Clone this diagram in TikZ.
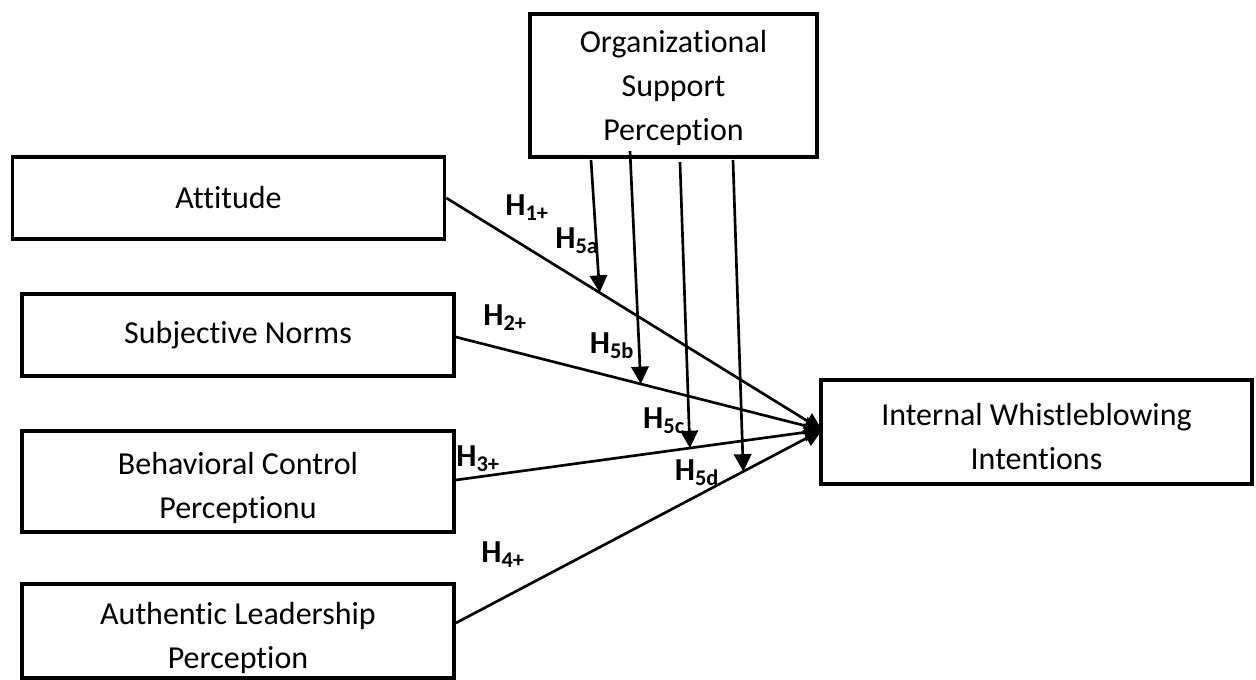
\documentclass[tikz,border=0pt]{standalone}
\usepackage{fontspec}
\setmainfont{Carlito}[Ligatures=NoCommon]
\usetikzlibrary{arrows.meta}

\tikzset{every picture/.style={line width=2pt}}
\tikzset{
  varbox/.style={draw, line width=2.8pt, align=center, inner sep=0pt,
    font=\fontsize{24}{33}\selectfont},
  twoline/.style={text height=61.5pt, text depth=6pt},
  hyplabel/.style={font=\fontsize{24}{28}\selectfont\bfseries, inner sep=0pt},
  hyparrow/.style={-{Triangle[length=13pt,width=13pt]}}
}

\begin{document}
\begin{tikzpicture}[x=0.75pt,y=0.75pt,yscale=-1,xscale=1]
\useasboundingbox (0,0) rectangle (1256,679);

% Boxes
\node [varbox, text height=88.5pt, text depth=6pt, minimum width=215pt, minimum height=107pt] (osp) at (673.5,85.5) {Organizational\\Support\\Perception};
\node [varbox, minimum width=324pt, minimum height=61pt] (att) at (228.5,198) {Attitude};
\node [varbox, minimum width=324pt, minimum height=61pt] (sn) at (238,335) {Subjective Norms};
\node [varbox, twoline, minimum width=324pt, minimum height=76pt] (bcp) at (238,481.5) {Behavioral Control\\Perceptionu};
\node [varbox, twoline, minimum width=324pt, minimum height=71pt] (alp) at (238,631) {Authentic Leadership\\Perception};
\node [varbox, twoline, minimum width=323pt, minimum height=78pt] (iwi) at (1036.5,432) {Internal Whistleblowing\\Intentions};

% Convergence point and moderator starts
\coordinate (tip) at (822,430);
\coordinate (o1) at (591,160);
\coordinate (o2) at (630,151);
\coordinate (o3) at (680,162);
\coordinate (o4) at (733,160);

% Direct paths
\draw [hyparrow] (att.east |- 0,198) -- (tip) coordinate[pos=0.408] (m1);
\draw [hyparrow] (sn.east |- 0,337) -- (tip) coordinate[pos=0.505] (m2);
\draw [hyparrow] (bcp.east |- 0,480) -- (tip) coordinate[pos=0.639] (m3);
\draw [hyparrow] (alp.east |- 0,623) -- (tip) coordinate[pos=0.785] (m4);

% Moderating paths
\draw [hyparrow] (o1) -- (m1);
\draw [hyparrow] (o2) -- (m2);
\draw [hyparrow] (o3) -- (m3);
\draw [hyparrow] (o4) -- (m4);

% Labels
\node [hyplabel] (h1) at (527,208) {H\textsubscript{1+}};
\node [hyplabel] (h2) at (505,318) {H\textsubscript{2+}};
\node [hyplabel] (h3) at (478,459) {H\textsubscript{3+}};
\node [hyplabel] (h4) at (503,555) {H\textsubscript{4+}};
\node [hyplabel] (h5a) at (577,241) {H\textsubscript{5a}};
\node [hyplabel] (h5b) at (612,346) {H\textsubscript{5b}};
\node [hyplabel] (h5c) at (664,421) {H\textsubscript{5c}};
\node [hyplabel] (h5d) at (697,473) {H\textsubscript{5d}};

\end{tikzpicture}
\end{document}
